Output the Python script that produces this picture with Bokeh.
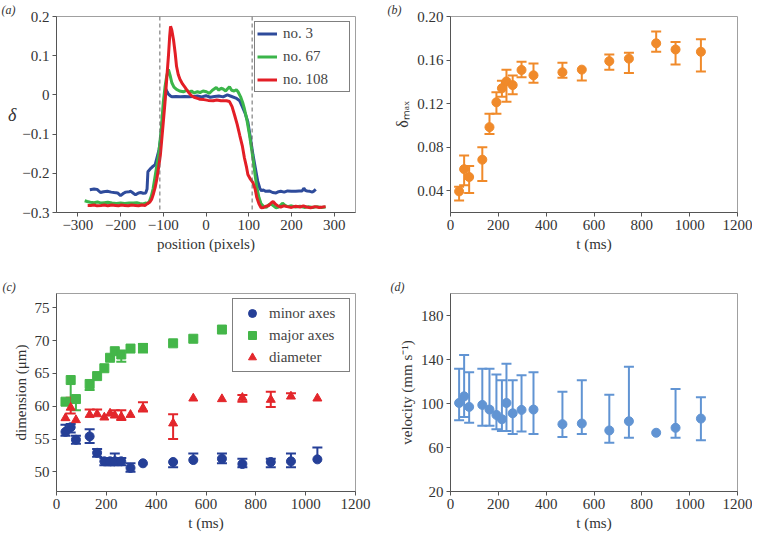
from bokeh.plotting import figure
from bokeh.layouts import gridplot
from bokeh.models import (Range1d, FixedTicker, Whisker, TeeHead, ColumnDataSource,
                          Span, Legend, LegendItem)
from bokeh.embed import file_html
from bokeh.resources import INLINE

FONT = "Liberation Serif, Times New Roman, serif"

# ---------------- panel (a): profiles ----------------
no3_x = [-272, -262, -255, -247, -240, -231, -222, -215, -207, -200, -193, -188, -180, -176, -170,
         -165, -158, -153, -147, -141, -138, -136, -130, -126, -119, -115, -110, -107, -103, -100,
         -96, -94, -91, -88, -84, -80, -70, -60, -50, -40, -30, -20, -10, 0, 10, 20, 30, 40, 50,
         60, 70, 79, 85, 92, 98, 104, 110, 116, 121, 126, 130, 133, 140, 148, 156, 164, 170, 175,
         183, 191, 200, 210, 218, 225, 229, 233, 237, 243, 249, 253, 257]
no3_y = [-0.242, -0.240, -0.241, -0.249, -0.247, -0.246, -0.248, -0.249, -0.250, -0.257, -0.251,
         -0.248, -0.247, -0.246, -0.251, -0.255, -0.250, -0.249, -0.251, -0.250, -0.240, -0.196,
         -0.188, -0.184, -0.178, -0.161, -0.140, -0.119, -0.080, -0.044, -0.005, 0.015, 0.008,
         0.002, -0.002, -0.005, -0.004, -0.005, -0.004, -0.005, -0.004, -0.003, -0.005, -0.002,
         -0.006, -0.004, -0.003, -0.005, 0.000, -0.004, -0.008, -0.015, -0.030, -0.048, -0.069,
         -0.110, -0.153, -0.190, -0.220, -0.238, -0.245, -0.242, -0.246, -0.245, -0.249, -0.250,
         -0.247, -0.246, -0.248, -0.245, -0.246, -0.246, -0.245, -0.245, -0.238, -0.244, -0.245,
         -0.246, -0.248, -0.245, -0.241]

no67_x = [-284, -278, -271, -262, -254, -246, -238, -230, -220, -210, -200, -190, -180, -170, -162,
          -155, -148, -142, -136, -132, -128, -124, -118, -111, -105, -100, -96, -92, -88, -84, -80,
          -75, -69, -62, -53, -45, -38, -34, -28, -20, -14, -7, 1, 8, 15, 24, 30, 35, 40, 46, 50,
          55, 60, 66, 71, 75, 81, 86, 90, 96, 102, 107, 111, 115, 119, 124, 129, 135, 141, 147,
          152, 158, 164, 170, 176, 179, 185, 191, 200, 210, 220, 230, 240, 250, 260, 270, 280]
no67_y = [-0.270, -0.272, -0.274, -0.275, -0.273, -0.276, -0.275, -0.274, -0.276, -0.277, -0.276,
          -0.277, -0.276, -0.276, -0.275, -0.277, -0.278, -0.276, -0.277, -0.270, -0.258, -0.240,
          -0.200, -0.153, -0.090, -0.019, 0.020, 0.048, 0.065, 0.050, 0.031, 0.020, 0.014, 0.010,
          0.008, 0.012, 0.006, 0.010, 0.005, 0.008, 0.006, 0.010, 0.008, 0.004, 0.012, 0.019,
          0.012, 0.017, 0.015, 0.010, 0.015, 0.021, 0.012, 0.010, 0.013, 0.008, -0.005, -0.020,
          -0.036, -0.065, -0.103, -0.140, -0.170, -0.205, -0.236, -0.262, -0.278, -0.285, -0.287,
          -0.280, -0.278, -0.283, -0.288, -0.286, -0.280, -0.276, -0.282, -0.285, -0.283, -0.286,
          -0.284, -0.287, -0.285, -0.287, -0.285, -0.287, -0.286]

no108_x = [-277, -270, -262, -255, -246, -238, -230, -220, -212, -205, -198, -190, -182, -174, -165,
           -158, -150, -143, -138, -132, -127, -123, -119, -115, -111, -107, -104, -100, -96, -92,
           -88, -85, -83, -80, -76, -72, -69, -65, -61, -55, -49, -42, -34, -28, -20, -14, -5, 5,
           17, 25, 35, 48, 55, 61, 67, 73, 79, 85, 90, 95, 98, 104, 110, 115, 119, 124, 129, 135,
           141, 147, 153, 157, 162, 168, 175, 182, 190, 200, 210, 220, 228, 235, 245, 255, 265,
           273, 280]
no108_y = [-0.282, -0.282, -0.281, -0.283, -0.282, -0.281, -0.283, -0.281, -0.282, -0.283, -0.281,
           -0.282, -0.283, -0.281, -0.282, -0.283, -0.281, -0.282, -0.278, -0.274, -0.266, -0.252,
           -0.236, -0.214, -0.186, -0.155, -0.119, -0.070, -0.019, 0.040, 0.098, 0.150, 0.175,
           0.165, 0.140, 0.105, 0.073, 0.052, 0.040, 0.028, 0.019, 0.008, -0.002, -0.006, -0.009,
           -0.011, -0.012, -0.014, -0.015, -0.013, -0.015, -0.015, -0.017, -0.030, -0.052, -0.075,
           -0.103, -0.130, -0.161, -0.185, -0.203, -0.215, -0.224, -0.240, -0.262, -0.278, -0.288,
           -0.287, -0.284, -0.282, -0.275, -0.272, -0.278, -0.283, -0.286, -0.283, -0.285, -0.287,
           -0.284, -0.286, -0.283, -0.286, -0.288, -0.285, -0.287, -0.286, -0.285]

edge_positions = [-108, 108]
a_xticks = [-300, -200, -100, 0, 100, 200, 300]
a_xlabels = ["\u2212300", "\u2212200", "\u2212100", "0", "100", "200", "300"]
a_yticks = [-0.3, -0.2, -0.1, 0, 0.1, 0.2]
a_ylabels = ["\u22120.3", "\u22120.2", "\u22120.1", "0", "0.1", "0.2"]

# ---------------- shared times (ms) ----------------
t_ms = [36, 57, 78, 133, 163, 192, 215, 234, 260, 297, 347, 468, 549, 664, 746, 860, 941, 1047]
t_ticks = [0, 200, 400, 600, 800, 1000, 1200]

# ---------------- panel (b): delta max ----------------
dmax = [0.0394, 0.0598, 0.0526, 0.0685, 0.0984, 0.1212, 0.1341, 0.1404, 0.1370, 0.1509, 0.1460,
        0.1488, 0.1512, 0.1590, 0.1613, 0.1754, 0.1697, 0.1676]
dmax_hi = [0.0436, 0.0724, 0.0628, 0.0799, 0.1107, 0.1305, 0.1410, 0.1512, 0.1458, 0.1584, 0.1569,
           0.1575, None, 0.1650, 0.1667, 0.1862, 0.1766, 0.1790]
dmax_lo = [0.0310, 0.0450, 0.0380, 0.0490, 0.0921, 0.1107, 0.1263, 0.1218, 0.1287, 0.1443, 0.1392,
           0.1437, 0.1413, 0.1512, 0.1482, 0.1676, 0.1560, 0.1494]
b_yticks = [0.04, 0.08, 0.12, 0.16, 0.20]
b_ylabels = ["0.04", "0.08", "0.12", "0.16", "0.20"]

# ---------------- panel (c): dimensions ----------------
minor = [56.1, 56.8, 54.9, 55.4, 52.9, 51.6, 51.6, 51.6, 51.6, 50.6, 51.3, 51.5, 51.8, 52.0, 51.2,
         51.5, 51.6, 51.9]
minor_hi = [57.2, 57.3, 55.5, 56.5, 53.5, 52.1, 52.1, 52.8, 52.1, 51.3, None, None, 52.8, 52.8,
            52.0, 52.0, 52.8, 53.7]
minor_lo = [55.5, 56.0, 54.3, 54.4, 52.3, 51.0, 51.0, 51.0, 51.0, 50.0, None, 50.7, None, 51.3,
            50.7, 50.7, 50.7, None]
major = [60.7, 64.0, 61.1, 63.4, 64.6, 65.8, 67.4, 68.4, 67.9, 68.8, 68.9, 69.6, 70.3, 71.7]
major_hi = [None, None, None, None, None, None, None, None, None, None, 69.5, None, None, None]
major_lo = [None, 61.0, 59.4, 62.5, None, None, None, None, 66.8, None, 68.2, None, None, None]
diam = [58.2, 59.8, 57.9, 58.7, 58.8, 58.3, 58.9, 58.6, 58.4, 58.7, 59.7, 57.4, 61.2, 61.1, 61.3,
        61.0, 61.5, 61.2]
diam_hi = [None, 61.3, None, 59.5, 59.5, None, None, 59.4, 59.4, None, 60.6, 58.8, None, None,
           61.7, 62.2, 62.0, None]
diam_lo = [None, 58.9, None, None, None, None, None, None, 57.9, None, 59.2, 55.0, None, None,
           60.7, 59.9, None, None]
c_yticks = [50, 55, 60, 65, 70, 75]

# ---------------- panel (d): velocity ----------------
vel = [100.5, 106.5, 96.9, 98.7, 94.5, 89.6, 85.7, 100.5, 91.1, 94.2, 94.5, 81.2, 81.8, 75.5, 83.9,
       73.4, 77.9, 86.3]
vel_hi = [131.7, 144.0, 128.4, 131.7, 131.7, 126.3, 121.2, 136.2, 121.2, 125.7, 128.4, 110.7, 121.2,
          108.0, 133.5, None, 113.1, 105.6]
vel_lo = [84.8, 87.8, 82.4, 79.7, 79.7, 76.7, 74.9, 74.9, 72.2, 74.6, 72.2, 69.5, 72.2, 64.4, 68.9,
          None, 68.9, 66.5]
d_yticks = [20, 60, 100, 140, 180]


def make_fig(w, h, bl, br, bt, bb, xr, yr, xticks, yticks, xlabel, ylabel,
             xlabels=None, ylabels=None, letter="", letter_x=0):
    p = figure(width=w, height=h, output_backend="svg", toolbar_location=None,
               x_range=Range1d(*xr), y_range=Range1d(*yr),
               min_border_left=bl, min_border_right=br, min_border_top=bt, min_border_bottom=bb)
    p.grid.visible = False
    p.outline_line_color = "#a0a0a0"
    p.background_fill_color = "white"
    p.border_fill_color = "white"
    for ax in (p.xaxis[0], p.yaxis[0]):
        ax.axis_line_color = "#555555"
        ax.major_tick_line_color = "#555555"
        ax.minor_tick_line_color = None
        ax.major_tick_in = 0
        ax.major_tick_out = 4
        ax.major_label_standoff = 3
        ax.major_label_text_font = FONT
        ax.major_label_text_font_size = "15px"
        ax.major_label_text_color = "#333333"
        ax.axis_label_text_font = FONT
        ax.axis_label_text_font_size = "15px"
        ax.axis_label_text_font_style = "normal"
        ax.axis_label_text_color = "#333333"
        ax.axis_label_standoff = 3
    p.xaxis.ticker = FixedTicker(ticks=xticks)
    p.yaxis.ticker = FixedTicker(ticks=yticks)
    if xlabels is not None:
        p.xaxis.major_label_overrides = {k: v for k, v in zip(xticks, xlabels)}
    if ylabels is not None:
        p.yaxis.major_label_overrides = {k: v for k, v in zip(yticks, ylabels)}
    p.xaxis.axis_label = xlabel
    p.yaxis.axis_label = ylabel
    # panel letter as a left-aligned title shifted to the canvas' left edge
    p.title.text = letter
    p.title.align = "left"
    p.title.offset = letter_x - bl
    p.title.standoff = 0
    p.title.text_font = FONT
    p.title.text_font_size = "12px"
    p.title.text_font_style = "italic"
    p.title.text_color = "#333333"
    return p


def add_bars(p, t, y, hi, lo, color, head=10, lw=2):
    up = [(a, b, c) for a, b, c in zip(t, y, hi) if c is not None]
    dn = [(a, b, c) for a, b, c in zip(t, y, lo) if c is not None]
    if up:
        src = ColumnDataSource(dict(base=[u[0] for u in up], lower=[u[1] for u in up],
                                    upper=[u[2] for u in up]))
        p.add_layout(Whisker(source=src, base="base", lower="lower", upper="upper",
                             line_color=color, line_width=lw,
                             upper_head=TeeHead(size=head, line_color=color, line_width=lw),
                             lower_head=None))
    if dn:
        src = ColumnDataSource(dict(base=[u[0] for u in dn], upper=[u[1] for u in dn],
                                    lower=[u[2] for u in dn]))
        p.add_layout(Whisker(source=src, base="base", lower="lower", upper="upper",
                             line_color=color, line_width=lw,
                             lower_head=TeeHead(size=head, line_color=color, line_width=lw),
                             upper_head=None))


W1, W2, H1, H2 = 372, 380, 262, 273

# ---- (a)
pa = make_fig(W1, H1, 56, 15, 13, 50, (-350, 350), (-0.3, 0.2), a_xticks, a_yticks,
              "position (pixels)", "\u03b4", a_xlabels, a_ylabels, "(a)", 1)
pa.yaxis.axis_label_orientation = "horizontal"
pa.yaxis.axis_label_text_font_style = "italic"
pa.yaxis.axis_label_text_font_size = "18px"
for xpos in edge_positions:
    pa.add_layout(Span(location=xpos, dimension="height", line_color="#666666",
                       line_dash="4 3", line_width=1))
r3 = pa.line(no3_x, no3_y, line_color="#2e4b9b", line_width=3)
r67 = pa.line(no67_x, no67_y, line_color="#3bb54a", line_width=3)
r108 = pa.line(no108_x, no108_y, line_color="#e31e26", line_width=3)
leg_a = Legend(items=[LegendItem(label="no. 3", renderers=[r3]),
                      LegendItem(label="no. 67", renderers=[r67]),
                      LegendItem(label="no. 108", renderers=[r108])],
               location="top_right", margin=5, padding=2, spacing=4,
               label_text_font=FONT, label_text_font_size="15px", label_height=19,
               glyph_height=19, glyph_width=20, label_standoff=6, label_width=64,
               border_line_color="black", border_line_width=1, background_fill_alpha=1)
pa.add_layout(leg_a)

# ---- (b)
pb = make_fig(W2, H1, 78, 15, 15, 49, (0, 1200), (0.02, 0.20), t_ticks, b_yticks,
              "t (ms)", "\u03b4\u2098\u2090\u2093", None, b_ylabels, "(b)", 15)
pb.yaxis.axis_label_text_font_size = "16px"
add_bars(pb, t_ms, dmax, dmax_hi, dmax_lo, "#f08a2a")
pb.scatter(t_ms, dmax, size=9, marker="circle", fill_color="#f08a2a", line_color="#f08a2a")

# ---- (c)
pc = make_fig(W1, H2, 55, 17, 30, 44, (0, 1200), (47, 77.2), t_ticks, c_yticks,
              "t (ms)", "dimension (\u03bcm)", None, None, "(c)", 1)
add_bars(pc, t_ms, minor, minor_hi, minor_lo, "#253f97")
add_bars(pc, t_ms[:len(major)], major, major_hi, major_lo, "#44b649")
add_bars(pc, t_ms, diam, diam_hi, diam_lo, "#e3262b")
rmin = pc.scatter(t_ms, minor, size=9, marker="circle", fill_color="#253f97", line_color="#253f97")
rmaj = pc.scatter(t_ms[:len(major)], major, size=9, marker="square", fill_color="#44b649",
                  line_color="#44b649")
rdia = pc.scatter(t_ms, diam, size=9, marker="triangle", fill_color="#e3262b", line_color="#e3262b")
leg_c = Legend(items=[LegendItem(label="minor axes", renderers=[rmin]),
                      LegendItem(label="major axes", renderers=[rmaj]),
                      LegendItem(label="diameter", renderers=[rdia])],
               location="top_right", margin=5, padding=4, spacing=2,
               label_text_font=FONT, label_text_font_size="15px", label_height=20,
               glyph_height=20, glyph_width=30, label_standoff=2, label_width=76,
               border_line_color="black", border_line_width=1, background_fill_alpha=1)
pc.add_layout(leg_c)

# ---- (d)
pd_ = make_fig(W2, H2, 77, 15, 31, 44, (0, 1200), (20, 200), t_ticks, d_yticks,
               "t (ms)", "velocity (mm s\u207b\u00b9)", None, None, "(d)", 17)
add_bars(pd_, t_ms, vel, vel_hi, vel_lo, "#6194d3")
pd_.scatter(t_ms, vel, size=9, marker="circle", fill_color="#6194d3", line_color="#6194d3")

grid = gridplot([[pa, pb], [pc, pd_]], toolbar_location=None)
open("out.html", "w").write(file_html(grid, INLINE))
